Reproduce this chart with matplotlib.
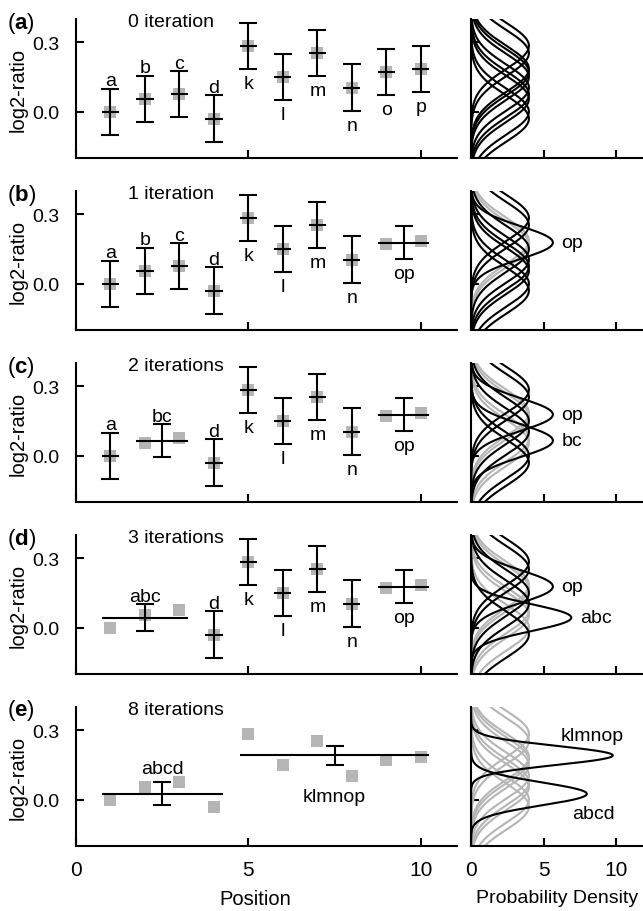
import numpy as np
import matplotlib
matplotlib.use('Agg')
import matplotlib.pyplot as plt

plt.rcParams['font.family'] = ['Liberation Sans', 'DejaVu Sans']
plt.rcParams['mathtext.fontset'] = 'custom'
plt.rcParams['mathtext.rm'] = 'Liberation Sans'
plt.rcParams['mathtext.bf'] = 'Liberation Sans:bold'

# Данные: позиции, значения log2-ratio и стандартное отклонение
names = ['a', 'b', 'c', 'd', 'k', 'l', 'm', 'n', 'o', 'p']
positions = [1, 2, 3, 4, 5, 6, 7, 8, 9, 10]
log2_ratio = [0.0, 0.055, 0.075, -0.03, 0.284, 0.15, 0.253, 0.104, 0.17, 0.185]
sd = 0.1

# Группы на каждой итерации
panel_letters = ['a', 'b', 'c', 'd', 'e']
titles = ['0 iteration', '1 iteration', '2 iterations', '3 iterations', '8 iterations']
groups_a = ['a', 'b', 'c', 'd', 'k', 'l', 'm', 'n', 'o', 'p']
groups_b = ['a', 'b', 'c', 'd', 'k', 'l', 'm', 'n', 'op']
groups_c = ['a', 'bc', 'd', 'k', 'l', 'm', 'n', 'op']
groups_d = ['abc', 'd', 'k', 'l', 'm', 'n', 'op']
groups_e = ['abcd', 'klmnop']
panel_groups = [groups_a, groups_b, groups_c, groups_d, groups_e]

W, H = 643, 912
fig = plt.figure(figsize=(W / 100, H / 100), dpi=100)

grey = '#b5b5b5'
lw = 1.5
fs = 14
yy = np.linspace(-0.2, 0.4, 500)
tops = [20, 192, 364, 536, 708]
ah = 139

def gauss(m, s):
    return np.exp(-0.5 * ((yy - m) / s) ** 2) / (s * np.sqrt(2 * np.pi))

for i, groups in enumerate(panel_groups):
    top = tops[i]
    b = 1 - (top + ah) / H
    ax = fig.add_axes([76 / W, b, 381 / W, ah / H])
    axd = fig.add_axes([471 / W, b, 172 / W, ah / H])
    last = i == len(panel_groups) - 1

    # левая панель
    ax.plot(positions, log2_ratio, 's', color=grey, ms=9, mew=0, zorder=1)
    for g in groups:
        idx = [names.index(ch) for ch in g]
        xs = [positions[j] for j in idx]
        vs = [log2_ratio[j] for j in idx]
        m = np.mean(vs)
        err = sd / np.sqrt(len(vs))
        xc = np.mean(xs)
        ax.hlines(m, min(xs) - 0.25, max(xs) + 0.25, color='black', lw=lw, zorder=3)
        ax.errorbar(xc, m, yerr=err, fmt='none', ecolor='black', elinewidth=lw,
                    capsize=6.2, capthick=lw, zorder=3)
        if max(xs) <= 4:
            ty = max(m + err, max(vs) + 0.026) + 0.015
            ax.text(xc, ty, g, ha='center', va='baseline', fontsize=fs)
        else:
            ty = min(m - err, min(vs) - 0.026) - 0.026
            ax.text(xc, ty, g, ha='center', va='top', fontsize=fs)

    ax.set_xlim(0, 11.05)
    ax.set_ylim(-0.2, 0.4)
    ax.set_xticks([0, 5, 10])
    ax.set_yticks([0, 0.3])
    ax.set_yticklabels(['0.0', '0.3'])
    ax.tick_params(direction='in', length=6, width=lw)
    ax.tick_params(axis='y', labelsize=14, pad=12)
    ax.tick_params(axis='x', labelsize=15, pad=10)
    ax.set_ylabel('log2-ratio', fontsize=14.5)
    ax.yaxis.set_label_coords(-0.128, 0.5)
    for s in ['top', 'right']:
        ax.spines[s].set_visible(False)
    for s in ['left', 'bottom']:
        ax.spines[s].set_linewidth(lw)
    ax.text(1.5, 0.391, titles[i], ha='left', va='center', fontsize=fs)
    fig.text(7 / W, 1 - (top + 3) / H, '($\\mathbf{' + panel_letters[i] + '}$)',
             ha='left', va='center', fontsize=16)

    # правая панель: плотности вероятности
    merged = ''.join(g for g in groups if len(g) > 1)
    for j, ch in enumerate(names):
        if ch in merged:
            axd.plot(gauss(log2_ratio[j], sd), yy, color=grey, lw=lw)
    for g in groups:
        idx = [names.index(ch) for ch in g]
        vs = [log2_ratio[j] for j in idx]
        m = np.mean(vs)
        s = sd / np.sqrt(len(vs))
        axd.plot(gauss(m, s), yy, color='black', lw=lw)
        if len(g) > 1:
            peak = 1 / (s * np.sqrt(2 * np.pi))
            if g == 'klmnop':
                axd.text(6.2, m + 0.086, g, ha='left', va='center', fontsize=fs)
            elif g == 'abcd':
                axd.text(6.95, m - 0.083, g, ha='left', va='center', fontsize=fs)
            else:
                axd.text(peak + 0.6, m, g, ha='left', va='center', fontsize=fs)

    axd.set_xlim(0, 11.85)
    axd.set_ylim(-0.2, 0.4)
    axd.set_xticks([0, 5, 10])
    axd.set_yticks([0, 0.3])
    axd.set_yticklabels([])
    axd.tick_params(direction='in', length=6, width=lw)
    axd.tick_params(axis='x', labelsize=15, pad=10)
    for s in ['top', 'right']:
        axd.spines[s].set_visible(False)
    for s in ['left', 'bottom']:
        axd.spines[s].set_linewidth(lw)

    if last:
        ax.set_xlabel('Position', fontsize=14.5)
        ax.xaxis.set_label_coords(0.47, -0.31)
        axd.set_xlabel('Probability Density', fontsize=14)
        axd.xaxis.set_label_coords(0.5, -0.31)
    else:
        ax.set_xticklabels([])
        axd.set_xticklabels([])

fig.savefig('out.png', dpi=100)
